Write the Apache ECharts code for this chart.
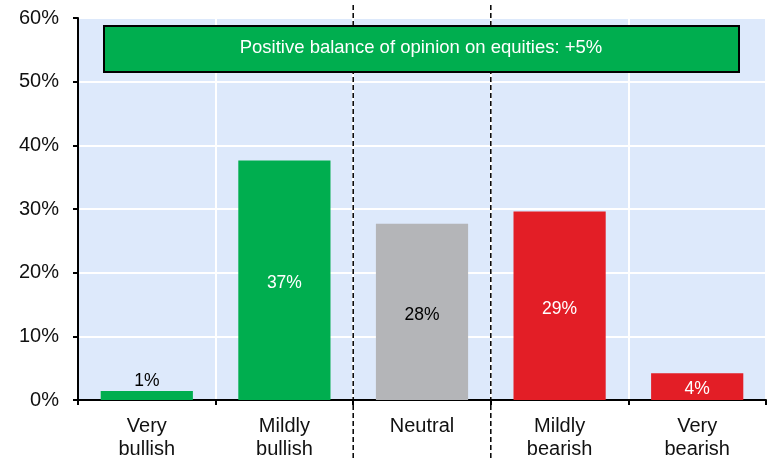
<!DOCTYPE html>
<html><head><meta charset="utf-8">
<script src="https://cdn.jsdelivr.net/npm/echarts@6/dist/echarts.min.js"></script>
<style>html,body{margin:0;padding:0;background:#fff}#c{width:769px;height:461px}</style>
</head><body><div id="c"></div>
<script>
const categories = ['Very\nbullish', 'Mildly\nbullish', 'Neutral', 'Mildly\nbearish', 'Very\nbearish'];
const values = [1.4, 37.6, 27.7, 29.6, 4.2];
const valueLabels = ['1%', '37%', '28%', '29%', '4%'];
const barColors = ['#00ae4f', '#00ae4f', '#b4b5b8', '#e31e26', '#e31e26'];
const labelColors = ['#000', '#fff', '#000', '#fff', '#fff'];
const labelPositions = ['top', 'inside', 'inside', 'inside', 'inside'];
const yTicks = [0, 10, 20, 30, 40, 50, 60];
const boxText = 'Positive balance of opinion on equities: +5%';

const W = 769, H = 461;
const G = {left: 78, right: 3, top: 18, bottom: 60};
const gw = W - G.left - G.right;
const font = 'Liberation Sans, Arial, sans-serif';

const chart = echarts.init(document.getElementById('c'));
const dashX = [G.left + gw * 2 / 5, G.left + gw * 3 / 5];
chart.setOption({
  animation: false,
  grid: Object.assign({containLabel: false, show: true, backgroundColor: '#dde9fb', borderWidth: 0}, G),
  xAxis: {
    type: 'category', data: categories,
    axisLine: {lineStyle: {color: '#000', width: 2}},
    axisTick: {show: true, length: 5, lineStyle: {color: '#000', width: 2}, alignWithLabel: false},
    axisLabel: {color: '#111', fontSize: 20, fontFamily: font, lineHeight: 23, margin: 15},
    splitLine: {show: true, lineStyle: {color: '#fff', width: 2}}
  },
  yAxis: {
    type: 'value', min: 0, max: 60, interval: 10,
    axisLine: {show: true, lineStyle: {color: '#000', width: 2}},
    axisTick: {show: true, length: 5, lineStyle: {color: '#000', width: 2}},
    axisLabel: {color: '#111', fontSize: 20, fontFamily: font, margin: 19,
      formatter: v => yTicks.includes(v) ? v + '%' : ''},
    splitLine: {show: true, lineStyle: {color: '#fff', width: 2}}
  },
  series: [{
    type: 'bar', barCategoryGap: '33%',
    data: values.map((v, i) => ({
      value: v,
      itemStyle: {color: barColors[i]},
      label: {show: true, position: labelPositions[i], color: labelColors[i],
        fontSize: 17.5, fontFamily: font, distance: 4, offset: [0, 3], formatter: () => valueLabels[i]}
    }))
  }],
  graphic: [
    ...dashX.map(x => ({
      type: 'line', z: 100,
      shape: {x1: x, y1: 5, x2: x, y2: H},
      style: {stroke: '#000', lineWidth: 1.5, lineDash: [5, 3]}
    })),
    {
      type: 'rect', z: 110,
      shape: {x: 104, y: 26, width: 635, height: 46},
      style: {fill: '#00ae4f', stroke: '#000', lineWidth: 2}
    },
    {
      type: 'text', z: 120, x: 421, y: 48,
      style: {text: boxText, fill: '#fff', fontSize: 18.5, fontFamily: font, align: 'center', verticalAlign: 'middle'}
    }
  ]
});
</script></body></html>
